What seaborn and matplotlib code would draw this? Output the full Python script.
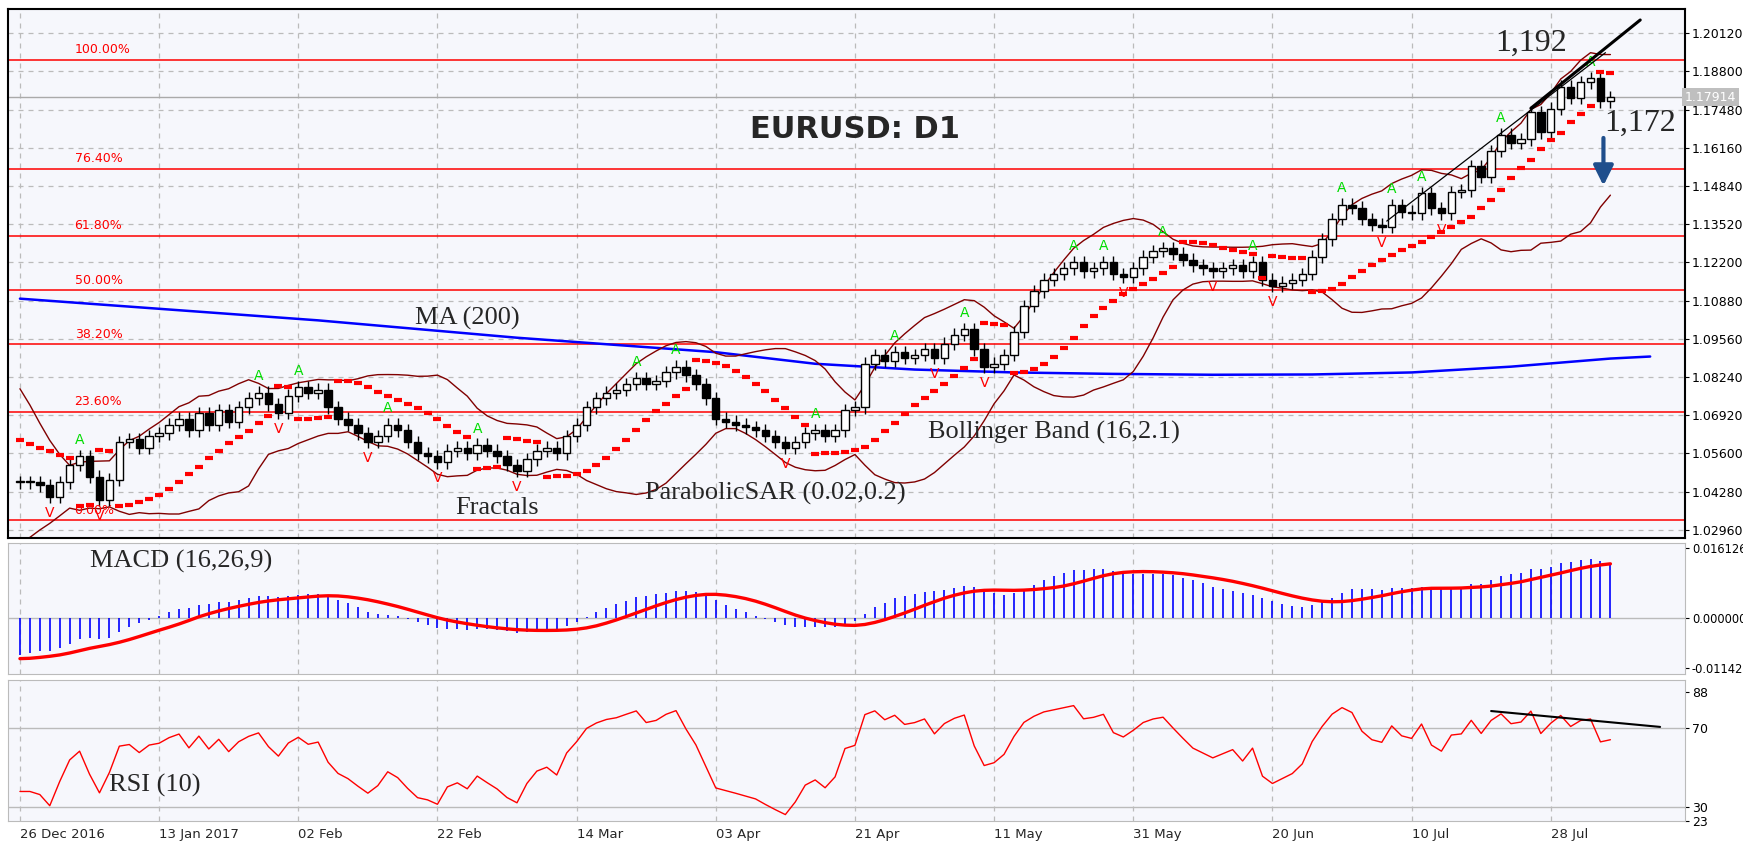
import numpy as np
import pandas as pd
import matplotlib
matplotlib.use("Agg")
import matplotlib.pyplot as plt
import seaborn as sns

# ---------------- data ----------------
history_closes = [1.098,1.097,1.099,1.102,1.103,1.105,1.098,1.092,1.090,1.085,1.078,1.073,1.070,1.068,
                  1.062,1.060,1.058,1.055,1.060,1.059,1.058,1.064,1.066,1.065,1.072,1.077,1.075,1.070,
                  1.064,1.061,1.052,1.040,1.041,1.041,1.042,1.044,1.041,1.045,1.044,1.046]
closes = [
 1.046,1.046,1.045,1.041,1.046,1.052,1.055,1.048,1.040,1.047,1.060,1.061,1.058,1.062,
 1.063,1.066,1.068,1.064,1.070,1.066,1.071,1.067,1.072,1.075,1.077,1.073,1.070,1.076,
 1.079,1.077,1.078,1.072,1.068,1.066,1.063,1.060,1.062,1.066,1.064,1.060,1.056,1.055,
 1.053,1.057,1.058,1.056,1.059,1.057,1.055,1.052,1.050,1.054,1.057,1.058,1.056,1.062,
 1.066,1.072,1.075,1.077,1.078,1.080,1.082,1.080,1.081,1.084,1.086,1.083,1.080,1.075,
 1.068,1.067,1.066,1.065,1.064,1.062,1.060,1.058,1.060,1.063,1.064,1.062,1.064,1.071,
 1.072,1.087,1.090,1.088,1.091,1.089,1.090,1.092,1.089,1.094,1.097,1.099,1.092,1.086,
 1.087,1.090,1.098,1.107,1.112,1.116,1.118,1.120,1.122,1.119,1.120,1.122,1.118,1.117,
 1.120,1.124,1.126,1.127,1.125,1.123,1.121,1.120,1.119,1.120,1.121,1.119,1.122,1.116,
 1.114,1.115,1.116,1.118,1.124,1.130,1.137,1.142,1.141,1.137,1.135,
 1.1344,1.1419,1.1396,1.139,1.146,1.1407,1.139,1.1464,1.147,1.1552,1.1517,1.1605,1.1662,1.1634,
 1.1646,1.1739,1.1670,1.1751,1.1827,1.1789,1.1843,1.1857,1.1777,1.1791]
wick = 0.0022
date_labels = ["26 Dec 2016","13 Jan 2017","02 Feb","22 Feb","14 Mar","03 Apr","21 Apr",
               "11 May","31 May","20 Jun","10 Jul","28 Jul"]
date_label_idx = [0,14,28,42,56,70,84,98,112,126,140,154]
ma200_idx = [0,10,20,30,40,50,60,70,80,90,100,110,120,130,140,150,160,164]
ma200_val = [1.1095,1.1070,1.1045,1.1020,1.0990,1.0960,1.0935,1.0910,1.0870,1.0850,1.0840,
             1.0835,1.0832,1.0833,1.0840,1.0860,1.0888,1.0895]
fib_low, fib_high = 1.0329, 1.1920
fib_levels = [0.0, 0.236, 0.382, 0.5, 0.618, 0.764, 1.0]
fib_labels = ["0.00%","23.60%","38.20%","50.00%","61.80%","76.40%","100.00%"]
price_ticks = [1.02960,1.04280,1.05600,1.06920,1.08240,1.09560,1.10880,1.12200,1.13520,
               1.14840,1.16160,1.17480,1.18800,1.20120]
current_price = 1.17914

# ---------------- derived series ----------------
allc = np.array(history_closes + closes)
H = len(history_closes)
opens_all = np.concatenate([[allc[0]], allc[:-1]])
highs_all = np.maximum(opens_all, allc) + wick
lows_all = np.minimum(opens_all, allc) - wick
s = pd.Series(allc)
mid = s.rolling(16).mean(); sd = s.rolling(16).std(ddof=0)
bb_up = (mid + 2.1 * sd).values[H:]; bb_dn = (mid - 2.1 * sd).values[H:]
macd = (s.ewm(span=12, adjust=False).mean() - s.ewm(span=26, adjust=False).mean())
signal = macd.rolling(9).mean()
d = s.diff(); up = d.clip(lower=0).ewm(alpha=0.1, adjust=False).mean(); dn = (-d.clip(upper=0)).ewm(alpha=0.1, adjust=False).mean()
rsi = (100 - 100 / (1 + up / dn)).values[H:]
macd = macd.values[H:]; signal = signal.values[H:]

# parabolic SAR
n_all = len(allc)
sar = np.zeros(n_all); bull = True; af = 0.02; ep = highs_all[0]; sar[0] = lows_all[0]
for i in range(1, n_all):
    sar[i] = sar[i-1] + af * (ep - sar[i-1])
    if bull:
        if lows_all[i] < sar[i]:
            bull = False; sar[i] = ep; ep = lows_all[i]; af = 0.02
        elif highs_all[i] > ep:
            ep = highs_all[i]; af = min(af + 0.02, 0.2)
    else:
        if highs_all[i] > sar[i]:
            bull = True; sar[i] = ep; ep = highs_all[i]; af = 0.02
        elif lows_all[i] < ep:
            ep = lows_all[i]; af = min(af + 0.02, 0.2)
sar = sar[H:]
o = opens_all[H:]; c = allc[H:]; hi = highs_all[H:]; lo = lows_all[H:]
N = len(c); x = np.arange(N)

# ---------------- figure ----------------
sns.set_style("white")
bg = "#F6F7FC"
fig = plt.figure(figsize=(17.43, 8.44), dpi=100)
fig.patch.set_facecolor("white")
L, R = 0.0046, 0.9667
axp = fig.add_axes([L, 0.3626, R - L, 0.989 - 0.3626])
axm = fig.add_axes([L, 0.2014, R - L, 0.3566 - 0.2014], sharex=axp)
axr = fig.add_axes([L, 0.027, R - L, 0.194 - 0.027], sharex=axp)
serif = "Liberation Serif"

for ax in (axp, axm, axr):
    ax.set_facecolor(bg)
    ax.yaxis.tick_right()
    ax.tick_params(axis="y", labelsize=9, length=3, pad=2, colors="black")
    for xi in date_label_idx:
        ax.axvline(xi, color="#BBBBBB", ls=(0, (4, 4)), lw=0.9, zorder=0)
axm.tick_params(axis="y", labelsize=8.3)
for ax in (axm, axr):
    for sp in ax.spines.values():
        sp.set_color("#BBBBBB")
for sp in axp.spines.values():
    sp.set_color("black"); sp.set_linewidth(1.5)

# price panel
for t in price_ticks:
    axp.axhline(t, color="#BBBBBB", ls=(0, (4, 4)), lw=0.9, zorder=0)
for lvl, lab in zip(fib_levels, fib_labels):
    yv = fib_low + lvl * (fib_high - fib_low)
    axp.axhline(yv, color="red", lw=1.1, zorder=1)
    axp.text(5.5, yv + 0.0012, lab, color="red", fontsize=9, va="bottom", zorder=7)
axp.axhline(current_price, color="#AAAAAA", lw=1, zorder=1)
sns.lineplot(x=ma200_idx, y=ma200_val, ax=axp, color="#0000FF", lw=1.8, zorder=2)
sns.lineplot(x=x, y=bb_up, ax=axp, color="#800000", lw=1, zorder=2)
sns.lineplot(x=x, y=bb_dn, ax=axp, color="#800000", lw=1, zorder=2)
axp.vlines(x, lo, hi, color="black", lw=1, zorder=3)
bull_c = c >= o
axp.bar(x[bull_c], np.maximum(np.abs(c - o), 0.0004)[bull_c], bottom=np.minimum(o, c)[bull_c], width=0.75,
        color="white", edgecolor="black", lw=1, zorder=4)
axp.bar(x[~bull_c], np.maximum(np.abs(c - o), 0.0004)[~bull_c], bottom=np.minimum(o, c)[~bull_c], width=0.75,
        color="black", edgecolor="black", lw=1, zorder=4)
axp.scatter(x, sar, marker="_", s=40, color="red", linewidths=3, zorder=5)
for i in range(2, N - 2):
    if hi[i] == max(hi[i-2:i+3]) and hi[i] > hi[i-1]:
        axp.text(i, hi[i] + 0.001, "A", color="#00DD00", fontsize=10, ha="center", va="bottom", zorder=6)
    if lo[i] == min(lo[i-2:i+3]) and lo[i] < lo[i-1]:
        axp.text(i, lo[i] - 0.001, "V", color="red", fontsize=10, ha="center", va="top", zorder=6)
axp.plot([152, 163], [1.1753, 1.2058], color="black", lw=2.2, zorder=6)
axp.plot([137.5, 159.5], [1.1363, 1.1945], color="black", lw=0.9, zorder=6)
axp.annotate("", xy=(159.3, 1.1476), xytext=(159.3, 1.1660),
             arrowprops=dict(arrowstyle="-|>,head_width=0.6,head_length=1.2", color="#1F4E8C", lw=3))
axp.text(84, 1.168, "EURUSD: D1", fontsize=22, fontweight="bold", ha="center", va="center", family="DejaVu Sans")
axp.text(45, 1.1005, "MA (200)", fontsize=19, family=serif, ha="center")
axp.text(104, 1.061, "Bollinger Band (16,2.1)", fontsize=19, family=serif, ha="center")
axp.text(76, 1.040, "ParabolicSAR (0.02,0.2)", fontsize=19, family=serif, ha="center")
axp.text(48, 1.035, "Fractals", fontsize=19, family=serif, ha="center")
axp.text(152, 1.1977, "1,192", fontsize=23, family=serif, ha="center", va="center")
axp.text(163, 1.1700, "1,172", fontsize=23, family=serif, ha="center", va="center")
axp.set_ylim(1.0268, 1.2095)
axp.set_yticks(price_ticks)
axp.set_yticklabels([f"{t:.5f}" for t in price_ticks])
axp.text(1.0, current_price, f"{current_price:.5f}", transform=axp.get_yaxis_transform(),
         fontsize=9, color="white", va="center", ha="left",
         bbox=dict(boxstyle="square,pad=0.2", fc="#BFBFBF", ec="none"))

# MACD panel
axm.axhline(0, color="#BBBBBB", lw=1, zorder=0)
axm.vlines(x, 0, macd, color="#0000FF", lw=1.2)
sns.lineplot(x=x, y=signal, ax=axm, color="red", lw=2.4)
axm.set_ylim(-0.0128, 0.0172)
axm.set_yticks([-0.01142, 0.0, 0.016126])
axm.set_yticklabels(["-0.01142", "0.000000", "0.016126"])
axm.text(7, 0.0115, "MACD (16,26,9)", fontsize=19, family=serif)

# RSI panel
for lv in (70, 30):
    axr.axhline(lv, color="#BBBBBB", lw=1, zorder=0)
sns.lineplot(x=x, y=rsi, ax=axr, color="red", lw=1)
axr.plot([148, 165], [78.5, 70.5], color="black", lw=1.5)
axr.set_ylim(23, 94)
axr.set_yticks([23, 30, 70, 88])
axr.set_yticklabels(["23", "30", "70", "88"])
axr.text(9, 38, "RSI (10)", fontsize=19, family=serif)

for ax in (axp, axm, axr):
    ax.set_xlabel(""); ax.set_ylabel("")
    ax.set_xlim(-1.2, 167.5)
plt.setp(axp.get_xticklabels(), visible=False)
plt.setp(axm.get_xticklabels(), visible=False)
axp.tick_params(axis="x", length=0); axm.tick_params(axis="x", length=0)
axr.set_xticks(date_label_idx)
axr.set_xticklabels(date_labels, fontsize=9.5, ha="left")
axr.tick_params(axis="x", length=3, pad=2)

fig.savefig("out.png", dpi=100, facecolor="white")
